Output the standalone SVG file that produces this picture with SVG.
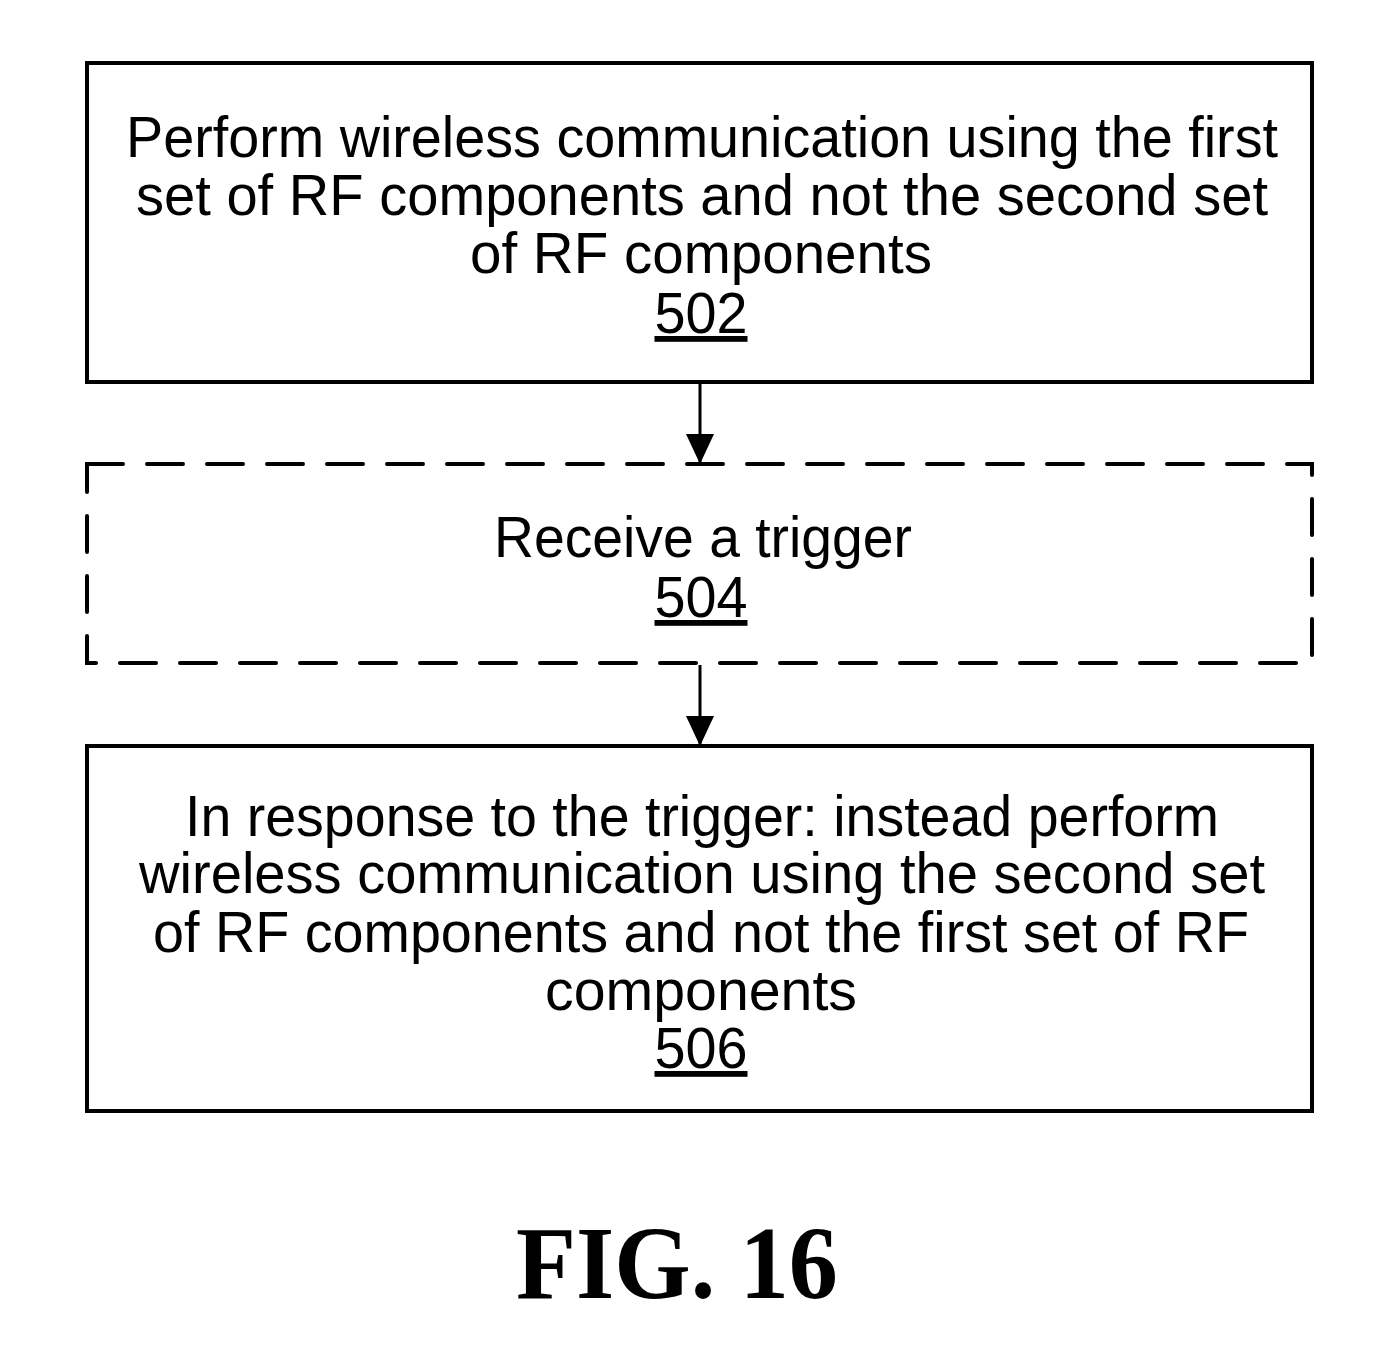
<svg xmlns="http://www.w3.org/2000/svg" width="1381" height="1350" viewBox="0 0 1381 1350">
  <defs>
    <style>
      .box { fill: none; stroke: #000; stroke-width: 4; }
      .dashed { stroke-dasharray: 36 24; stroke-linecap: round; }
      .t { font-family: "Liberation Sans", Arial, sans-serif; font-size: 58px; fill: #000; text-anchor: middle; }
      .u { text-decoration: underline; }
      .conn { stroke: #000; stroke-width: 3; fill: none; }
      .fig { font-family: "Liberation Serif", "Times New Roman", serif; font-weight: bold; font-size: 104px; fill: #000; text-anchor: middle; }
    </style>
    <marker id="arrow" markerUnits="userSpaceOnUse" markerWidth="30" markerHeight="32" refX="30" refY="14" orient="auto">
      <path d="M0,0 L30,14 L0,28 Z" fill="#000"/>
    </marker>
  </defs>
  <rect width="1381" height="1350" fill="#fff"/>

  <g id="node-502">
    <rect class="box" x="87" y="63" width="1225" height="319"/>
    <text class="t" x="702" y="157" textLength="1152" lengthAdjust="spacingAndGlyphs">Perform wireless communication using the first</text>
    <text class="t" x="702" y="215" textLength="1132" lengthAdjust="spacingAndGlyphs">set of RF components and not the second set</text>
    <text class="t" x="701" y="273" textLength="462" lengthAdjust="spacingAndGlyphs">of RF components</text>
    <text class="t u" x="701" y="333" textLength="93" lengthAdjust="spacingAndGlyphs">502</text>
  </g>

  <g id="node-504">
    <path class="box dashed" d="M87,464 H1312 V663 H87 Z"/>
    <text class="t" x="703" y="557" textLength="418" lengthAdjust="spacingAndGlyphs">Receive a trigger</text>
    <text class="t u" x="701" y="617" textLength="93" lengthAdjust="spacingAndGlyphs">504</text>
  </g>

  <g id="node-506">
    <rect class="box" x="87" y="746" width="1225" height="365"/>
    <text class="t" x="702" y="836" textLength="1034" lengthAdjust="spacingAndGlyphs">In response to the trigger: instead perform</text>
    <text class="t" x="702" y="893" textLength="1126" lengthAdjust="spacingAndGlyphs">wireless communication using the second set</text>
    <text class="t" x="701" y="952" textLength="1096" lengthAdjust="spacingAndGlyphs">of RF components and not the first set of RF</text>
    <text class="t" x="701" y="1010" textLength="312" lengthAdjust="spacingAndGlyphs">components</text>
    <text class="t u" x="701" y="1068" textLength="93" lengthAdjust="spacingAndGlyphs">506</text>
  </g>

  <g id="connectors">
    <line class="conn" x1="700" y1="384" x2="700" y2="464" marker-end="url(#arrow)"/>
    <line class="conn" x1="700" y1="665" x2="700" y2="746" marker-end="url(#arrow)"/>
  </g>

  <g id="caption">
    <text class="fig" x="677" y="1298" textLength="322" lengthAdjust="spacingAndGlyphs">FIG. 16</text>
  </g>
</svg>
